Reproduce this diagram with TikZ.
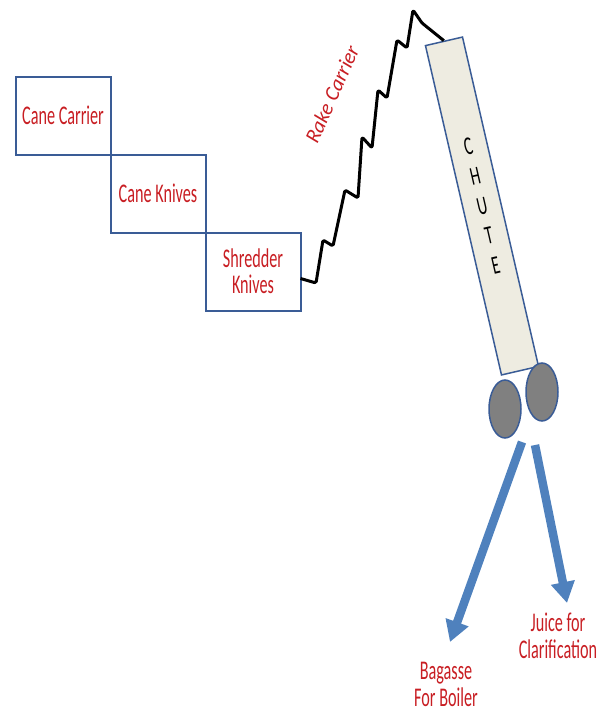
\documentclass[tikz,border=0pt]{standalone}
\usepackage{fontspec}
\usetikzlibrary{positioning,shapes.geometric,arrows.meta}
\newfontfamily\labelfont[FakeStretch=0.6]{Carlito}
\newfontfamily\rakefont{Carlito}
\definecolor{labelred}{RGB}{200,30,35}
\definecolor{boxblue}{RGB}{58,92,150}
\definecolor{chutefill}{RGB}{238,236,225}
\definecolor{rollergray}{RGB}{128,128,128}
\definecolor{flowblue}{RGB}{79,129,189}
\begin{document}
\begin{tikzpicture}
[x=1pt,y=-1pt,
 stagebox/.style={shape=rectangle,draw=boxblue,line width=2pt,outer sep=0pt,
   minimum width=95pt,minimum height=78pt,align=center,text=labelred,
   font=\labelfont\fontsize{27}{26}\selectfont},%
 roller/.style={shape=ellipse,draw=boxblue,line width=1.5pt,fill=rollergray,
   inner sep=0pt,minimum width=32pt,minimum height=58pt},%
 flowarrow/.style={draw=flowblue,line width=8.5pt,
   -{Triangle[width=23pt,length=21pt]}},%
 outlabel/.style={align=center,text=labelred,
   font=\labelfont\fontsize{27}{27}\selectfont}]
\useasboundingbox (0,0) rectangle (606,713);
%% milling stages
\node (carrier) at (63,115.5) [stagebox] {Cane Carrier};
\node (knives) [stagebox,below right=0pt and 0pt of carrier] {Cane Knives};
\node (shredder) [stagebox,below right=0pt and 0pt of knives] {Shredder\\Knives};
%% chute and rollers
\node (chute) at (482,206) [shape=rectangle,draw=boxblue,line width=1.5pt,
  fill=chutefill,rotate=13,minimum width=38pt,minimum height=338pt,
  align=center,font=\labelfont\fontsize{26}{30.5}\selectfont]
  {C\\H\\U\\T\\E};
\node (lroller) at (505,409) [roller] {};
\node (rroller) at (542,392) [roller] {};
%% rake carrier
\draw[line width=3pt,line join=round,rounded corners=1.5pt]
  ([yshift=-7pt]shredder.east)
  \foreach \x/\y in {316/283, 323/240, 333/246, 345/190, 358/198, 362/137,
    372/148, 378/90, 387/98, 397/40, 407/48, 413/10, 422/23}
  { -- (\x,\y) } -- (chute.north);
\node (rake) at (332,94) [rotate=66,text=labelred,
  font=\rakefont\itshape\fontsize{21}{22}\selectfont] {Rake Carrier};
%% outputs
\coordinate (bagstart) at (522,442);
\coordinate (bagtip) at (450,642);
\coordinate (juicestart) at (535,445);
\coordinate (juicetip) at (567,603);
\node (bagasse) at (446,684) [outlabel] {Bagasse\\For Boiler};
\node (juice) at (558,636) [outlabel] {Juice for\\Clarification};
\draw[flowarrow] (bagstart) -- (bagtip);
\draw[flowarrow] (juicestart) -- (juicetip);
\end{tikzpicture}
\end{document}
